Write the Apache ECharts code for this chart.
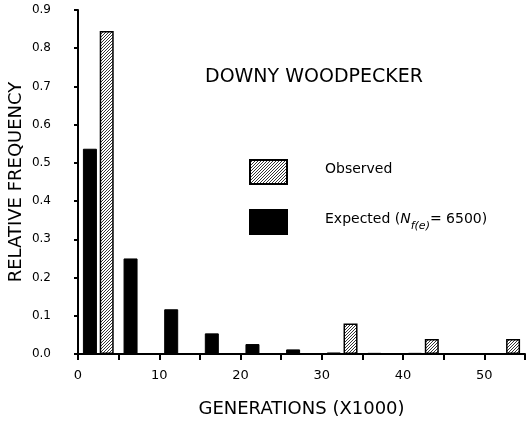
<!DOCTYPE html>
<html>
<head>
<meta charset="utf-8">
<script src="https://cdn.jsdelivr.net/npm/echarts@6/dist/echarts.min.js"></script>
<style>
body { margin: 0; background: #fff; }
#chart { width: 526px; height: 426px; }
</style>
</head>
<body>
<div id="chart"></div>
<script>
// bins of 5000 generations
var binStarts = [0, 5, 10, 15, 20, 25, 30, 35, 40, 45, 50];
var expectedFreq = [0.537, 0.25, 0.117, 0.054, 0.026, 0.012, 0.004, 0.003, 0.003, 0, 0];
var observedFreq = [0.845, null, null, null, null, null, 0.08, null, 0.039, null, 0.039];
var yTicks = [0, 0.1, 0.2, 0.3, 0.4, 0.5, 0.6, 0.7, 0.8, 0.9];
var xTicks = [0, 10, 20, 30, 40, 50];

var font = 'DejaVu Sans';

function hatch() {
	var c = document.createElement('canvas');
	c.width = 3;
	c.height = 3;
	var ctx = c.getContext('2d');
	ctx.fillStyle = '#fff';
	ctx.fillRect(0, 0, 3, 3);
	ctx.strokeStyle = '#333';
	ctx.lineWidth = 1;
	ctx.beginPath();
	ctx.moveTo(-1, 4);
	ctx.lineTo(4, -1);
	ctx.stroke();
	return c;
}

var chart = echarts.init(document.getElementById('chart'));
var option = {
	animation : false,
	backgroundColor : '#fff',
	title : {
		text : 'DOWNY WOODPECKER',
		left : 200,
		top : 63,
		textStyle : {
			fontFamily : font,
			fontSize : 19,
			fontWeight : 'normal',
			color : '#000'
		}
	},
	legend : {
		orient : 'vertical',
		left : 249,
		top : 159,
		padding : 0,
		icon : 'rect',
		itemWidth : 37,
		itemHeight : 24,
		itemGap : 24,
		data : [ 'Observed', 'Expected' ],
		formatter : function(name) {
			if (name === 'Expected') {
				return '{a|Expected (}{n|N}{s|f(e)}{a|= 6500)}';
			}
			return '{a|Observed}';
		},
		textStyle : {
			fontFamily : font,
			fontSize : 14,
			color : '#000',
			padding : [ 0, 0, 0, 33 ],
			rich : {
				a : { fontFamily : font, fontSize : 14, lineHeight : 20, verticalAlign : 'top' },
				n : { fontFamily : font, fontSize : 14, fontStyle : 'italic', lineHeight : 20, verticalAlign : 'top' },
				s : { fontFamily : font, fontSize : 11, fontStyle : 'italic', lineHeight : 20, verticalAlign : 'bottom' }
			}
		}
	},
	grid : {
		left : 78,
		right : 1,
		top : 10,
		bottom : 72,
		outerBoundsMode : 'none'
	},
	xAxis : [ {
		type : 'category',
		data : binStarts,
		boundaryGap : true,
		axisLine : { lineStyle : { color : '#000', width : 2 } },
		axisTick : { show : true, length : 6, lineStyle : { color : '#000', width : 2 } },
		axisLabel : { show : false },
		splitLine : { show : false }
	}, {
		type : 'value',
		position : 'bottom',
		min : 0,
		max : 55,
		interval : 10,
		axisLine : { show : false },
		axisTick : { show : false },
		splitLine : { show : false },
		axisLabel : {
			margin : 15,
			fontFamily : font,
			fontSize : 13,
			color : '#000',
			showMaxLabel : false,
			formatter : function(v) {
				return xTicks.indexOf(v) >= 0 ? String(v) : '';
			}
		},
		name : 'GENERATIONS (X1000)',
		nameLocation : 'middle',
		nameGap : 46,
		nameTextStyle : { fontFamily : font, fontSize : 18, color : '#000' }
	} ],
	yAxis : {
		type : 'value',
		min : 0,
		max : 0.9,
		interval : 0.1,
		axisLine : { show : true, lineStyle : { color : '#000', width : 2 } },
		axisTick : { show : true, length : 4, lineStyle : { color : '#000', width : 2 } },
		splitLine : { show : false },
		axisLabel : {
			margin : 27,
			fontFamily : font,
			fontSize : 12,
			color : '#000',
			formatter : function(v) {
				return yTicks.indexOf(Math.round(v * 10) / 10) >= 0 ? v.toFixed(1) : '';
			}
		},
		name : 'RELATIVE FREQUENCY',
		nameLocation : 'middle',
		nameGap : 53,
		nameMoveOverlap : false,
		nameTextStyle : { fontFamily : font, fontSize : 18, color : '#000' }
	},
	series : [ {
		name : 'Expected',
		type : 'bar',
		xAxisIndex : 0,
		barWidth : 14,
		barGap : '20%',
		itemStyle : { color : '#000', borderColor : '#000', borderWidth : 1 },
		data : expectedFreq
	}, {
		name : 'Observed',
		type : 'bar',
		xAxisIndex : 0,
		barWidth : 14,
		barGap : '20%',
		itemStyle : {
			color : { image : hatch(), repeat : 'repeat' },
			borderColor : '#000',
			borderWidth : 1.5
		},
		data : observedFreq
	} ]
};
chart.setOption(option);
</script>
</body>
</html>
